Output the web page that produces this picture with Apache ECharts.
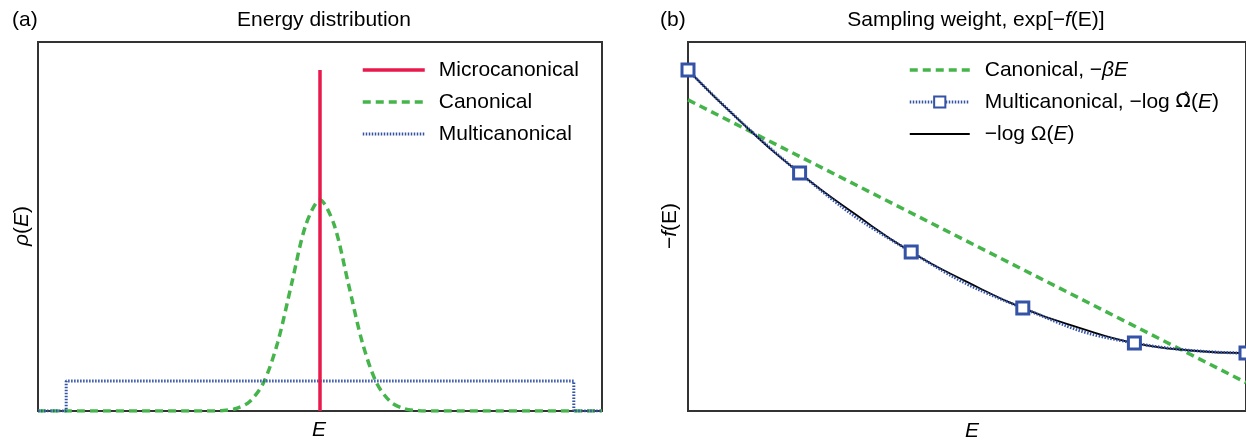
<!DOCTYPE html>
<html lang="en">
  <head>
    <meta charset="UTF-8" />
    <title>Energy distribution / Sampling weight</title>
    <script src="https://cdn.jsdelivr.net/npm/echarts@6/dist/echarts.min.js"></script>
    <style>
      html, body { margin: 0; padding: 0; background: #fff; }
    </style>
  </head>
  <body>
    <div id="main" style="width: 1246px; height: 443px"></div>
    <script type="text/javascript">
      // (a) energy distribution, E on 0..100, rho on 0..1
      const microE = [50, 50];
      const microRho = [0, 0.924];
      const canonE = [0, 30, 32.5, 35, 37.5, 40, 42.5, 45, 47.5, 50, 52.5, 55, 57.5, 60, 62.5, 65, 67.5, 70, 100];
      const canonRho = [0, 0, 0.001, 0.006, 0.025, 0.077, 0.186, 0.347, 0.505, 0.572, 0.505, 0.347, 0.186, 0.077, 0.025, 0.006, 0.001, 0, 0];
      const multiE = [0, 5, 5, 95, 95, 100];
      const multiRho = [0, 0, 0.081, 0.081, 0, 0];

      // (b) sampling weight, E on 0..5, -f(E) on 0..1
      const betaE = [0, 5];
      const betaWeight = [0.843, 0.077];
      const hatE = [0, 1, 2, 3, 4, 5];
      const hatWeight = [0.924, 0.645, 0.431, 0.279, 0.184, 0.157];
      const omegaE = [0, 0.5, 1, 1.5, 2, 2.5, 3, 3.5, 4, 4.5, 5];
      const omegaWeight = [0.924, 0.776, 0.645, 0.533, 0.431, 0.35, 0.279, 0.226, 0.184, 0.164, 0.157];

      const pairs = (xs, ys) => xs.map((x, i) => [x, ys[i]]);

      const RED = "#e8194b";
      const GREEN = "#45b54b";
      const BLUE = "#3453a6";
      const FONT = "Liberation Sans";
      const FS = 21;

      const rich = {
        n: { fontFamily: FONT, fontSize: FS, color: "#000" },
        i: { fontFamily: FONT, fontSize: FS, color: "#000", fontStyle: "italic" },
        h: { fontFamily: "DejaVu Sans", fontSize: FS - 1, color: "#000" },
      };

      const hiddenAxis = (gridIndex, min, max) => ({
        type: "value",
        gridIndex: gridIndex,
        min: min,
        max: max,
        axisLine: { show: false },
        axisTick: { show: false },
        axisLabel: { show: false },
        splitLine: { show: false },
      });

      const legendNames = {
        "Canonical, -bE": "{n|Canonical, \u2212}{i|\u03b2E}",
        "Multicanonical, -log hatOmega(E)": "{n|Multicanonical, \u2212log }{h|\u03a9\u0302}{n|(}{i|E}{n|)}",
        "-log Omega(E)": "{n|\u2212log \u03a9(}{i|E}{n|)}",
      };

      // legend entry drawn as a plain line, no marker
      const lineOnly = (name, width) => ({ name: name, itemStyle: { opacity: 0 }, lineStyle: { width: width } });

      let options = {
        animation: false,
        grid: [
          { left: 38, right: 644, top: 42, bottom: 32, show: true, borderColor: "#333", borderWidth: 2 },
          { left: 688, right: -5, top: 42, bottom: 32, show: true, borderColor: "#333", borderWidth: 2 },
        ],
        xAxis: [hiddenAxis(0, 0, 100), hiddenAxis(1, 0, 5)],
        yAxis: [hiddenAxis(0, 0, 1), hiddenAxis(1, 0, 1)],
        legend: [
          {
            orient: "vertical",
            left: 361,
            top: 59,
            padding: 0,
            itemWidth: 62,
            itemHeight: 14,
            itemGap: 10,
            textStyle: { fontFamily: FONT, fontSize: FS, color: "#000", lineHeight: 22, padding: [0, 0, 0, 9] },
            data: [lineOnly("Microcanonical", 3.5), lineOnly("Canonical", 3.5), lineOnly("Multicanonical", 3)],
          },
          {
            orient: "vertical",
            left: 908,
            top: 59,
            padding: 0,
            itemWidth: 60,
            itemHeight: 14,
            itemGap: 10,
            textStyle: { fontFamily: FONT, fontSize: FS, color: "#000", lineHeight: 22, padding: [0, 0, 0, 10], rich: rich },
            formatter: (name) => legendNames[name] || name,
            data: [
              lineOnly("Canonical, -bE", 3.5),
              { name: "Multicanonical, -log hatOmega(E)", lineStyle: { width: 3 } },
              lineOnly("-log Omega(E)", 2),
            ],
          },
        ],
        series: [
          {
            name: "Canonical",
            type: "line",
            xAxisIndex: 0,
            yAxisIndex: 0,
            symbol: "none",
            smooth: 0.3,
            data: pairs(canonE, canonRho),
            lineStyle: { color: GREEN, width: 3.5, type: [8, 5] },
            itemStyle: { color: GREEN },
            z: 2,
          },
          {
            name: "Multicanonical",
            type: "line",
            xAxisIndex: 0,
            yAxisIndex: 0,
            symbol: "none",
            data: pairs(multiE, multiRho),
            lineStyle: { color: BLUE, width: 3, type: [1.5, 1.5] },
            itemStyle: { color: BLUE },
            z: 3,
          },
          {
            name: "Microcanonical",
            type: "line",
            xAxisIndex: 0,
            yAxisIndex: 0,
            symbol: "none",
            data: pairs(microE, microRho),
            lineStyle: { color: RED, width: 3.5 },
            itemStyle: { color: RED },
            z: 4,
          },
          {
            name: "Canonical, -bE",
            type: "line",
            xAxisIndex: 1,
            yAxisIndex: 1,
            symbol: "none",
            data: pairs(betaE, betaWeight),
            lineStyle: { color: GREEN, width: 3.5, type: [8, 5] },
            itemStyle: { color: GREEN },
            z: 2,
          },
          {
            name: "-log Omega(E)",
            type: "line",
            xAxisIndex: 1,
            yAxisIndex: 1,
            symbol: "none",
            smooth: true,
            data: pairs(omegaE, omegaWeight),
            lineStyle: { color: "#000", width: 1.8 },
            itemStyle: { color: "#000" },
            z: 3,
          },
          {
            name: "Multicanonical, -log hatOmega(E)",
            type: "line",
            xAxisIndex: 1,
            yAxisIndex: 1,
            symbol: "rect",
            symbolSize: 12,
            smooth: true,
            clip: false,
            data: pairs(hatE, hatWeight),
            lineStyle: { color: BLUE, width: 3, type: [1.5, 1.5] },
            itemStyle: { color: "#fff", borderColor: BLUE, borderWidth: 3 },
            z: 4,
          },
        ],
        graphic: [
          { type: "text", x: 12, y: 20, style: { text: "(a)", font: FS + "px " + FONT, fill: "#000", textVerticalAlign: "middle" } },
          { type: "text", x: 324, y: 20, style: { text: "Energy distribution", font: FS + "px " + FONT, fill: "#000", textAlign: "center", textVerticalAlign: "middle" } },
          { type: "text", x: 319, y: 430, style: { text: "E", font: "italic " + FS + "px " + FONT, fill: "#000", textAlign: "center", textVerticalAlign: "middle" } },
          {
            type: "text", x: 22, y: 226, rotation: Math.PI / 2,
            style: { text: "{i|\u03c1}{n|(}{i|E}{n|)}", rich: rich, textAlign: "center", textVerticalAlign: "middle" },
          },
          { type: "text", x: 660, y: 20, style: { text: "(b)", font: FS + "px " + FONT, fill: "#000", textVerticalAlign: "middle" } },
          {
            type: "text", x: 976, y: 20,
            style: {
              text: "{n|Sampling weight, exp[\u2212}{i|f}{n|(E)]}",
              rich: rich,
              textAlign: "center", textVerticalAlign: "middle",
            },
          },
          { type: "text", x: 972, y: 431, style: { text: "E", font: "italic " + FS + "px " + FONT, fill: "#000", textAlign: "center", textVerticalAlign: "middle" } },
          {
            type: "text", x: 670, y: 226, rotation: Math.PI / 2,
            style: {
              text: "{n|\u2212}{i|f}{n|(E)}",
              rich: rich,
              textAlign: "center", textVerticalAlign: "middle",
            },
          },
        ],
      };

      let myChart = echarts.init(document.getElementById("main"));
      myChart.setOption(options);
    </script>
  </body>
</html>
